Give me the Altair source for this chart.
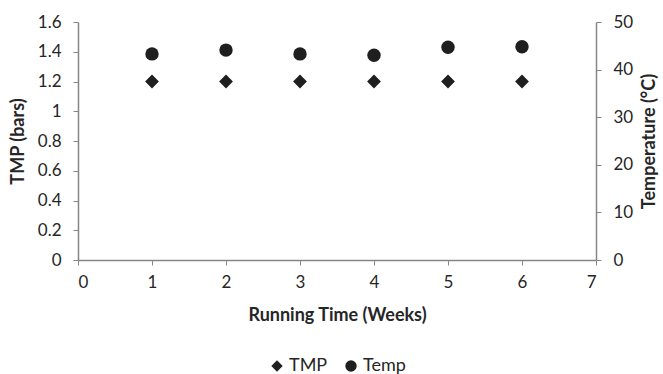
import altair as alt
import pandas as pd

weeks = [1, 2, 3, 4, 5, 6]
tmp_bars = [1.2, 1.2, 1.2, 1.2, 1.2, 1.2]
temp_c = [43.3, 44.1, 43.3, 43.0, 44.7, 44.8]

df_tmp = pd.DataFrame({"week": weeks, "value": tmp_bars, "series": "TMP"})
df_temp = pd.DataFrame({"week": weeks, "value": temp_c, "series": "Temp"})

FONT = "Lato"
AX = "#868686"
TXT = "#262626"
MARK = "#1f1f1f"

shape_scale = alt.Scale(domain=["TMP", "Temp"], range=["diamond", "circle"])

x_enc = alt.X("week:Q", title="Running Time (Weeks)",
              scale=alt.Scale(domain=[0, 7], nice=False),
              axis=alt.Axis(values=[0, 1, 2, 3, 4, 5, 6, 7], grid=False,
                            labelPadding=9, titlePadding=16))

legend = alt.Legend(title=None, orient="none", direction="horizontal",
                    legendX=190, legendY=335, symbolSize=130,
                    symbolFillColor=MARK, symbolStrokeWidth=0,
                    labelFontSize=18, labelFont=FONT, labelColor=TXT,
                    columnPadding=14, labelOffset=3)

tmp_layer = alt.Chart(df_tmp).mark_point(filled=True, size=190, opacity=1, color=MARK).encode(
    x=x_enc,
    y=alt.Y("value:Q", title="TMP (bars)",
            scale=alt.Scale(domain=[0, 1.6], nice=False),
            axis=alt.Axis(values=[0, 0.2, 0.4, 0.6, 0.8, 1.0, 1.2, 1.4, 1.6],
                          grid=False, orient="left", titlePadding=10,
                          labelPadding=12,
                          labelExpr="datum.value == 0 ? '0' : datum.value == 1 ? '1' : format(datum.value, '.1f')")),
    shape=alt.Shape("series:N", scale=shape_scale, legend=legend),
)

temp_layer = alt.Chart(df_temp).mark_point(filled=True, size=180, opacity=1, color=MARK).encode(
    x=x_enc,
    y=alt.Y("value:Q", title="Temperature (°C)",
            scale=alt.Scale(domain=[0, 50], nice=False),
            axis=alt.Axis(values=[0, 10, 20, 30, 40, 50], grid=False,
                          orient="right", titleAngle=270, titleBaseline="top",
                          titlePadding=8, labelPadding=12)),
    shape=alt.Shape("series:N", scale=shape_scale, legend=legend),
)

chart = alt.layer(tmp_layer, temp_layer).resolve_scale(y="independent").properties(
    width=518, height=238,
    autosize=alt.AutoSizeParams(type="none"),
    padding={"left": 78, "top": 22, "right": 67, "bottom": 114},
).configure_view(stroke=None).configure_axis(
    domainColor=AX, tickColor=AX, tickSize=5, domainWidth=1.5,
    labelFont=FONT, labelFontSize=17, labelColor=TXT,
    titleFont=FONT, titleFontSize=18, titleFontWeight="bold", titleColor=TXT,
)

chart.save("out.html", embed_options={"renderer": "svg", "actions": False})
